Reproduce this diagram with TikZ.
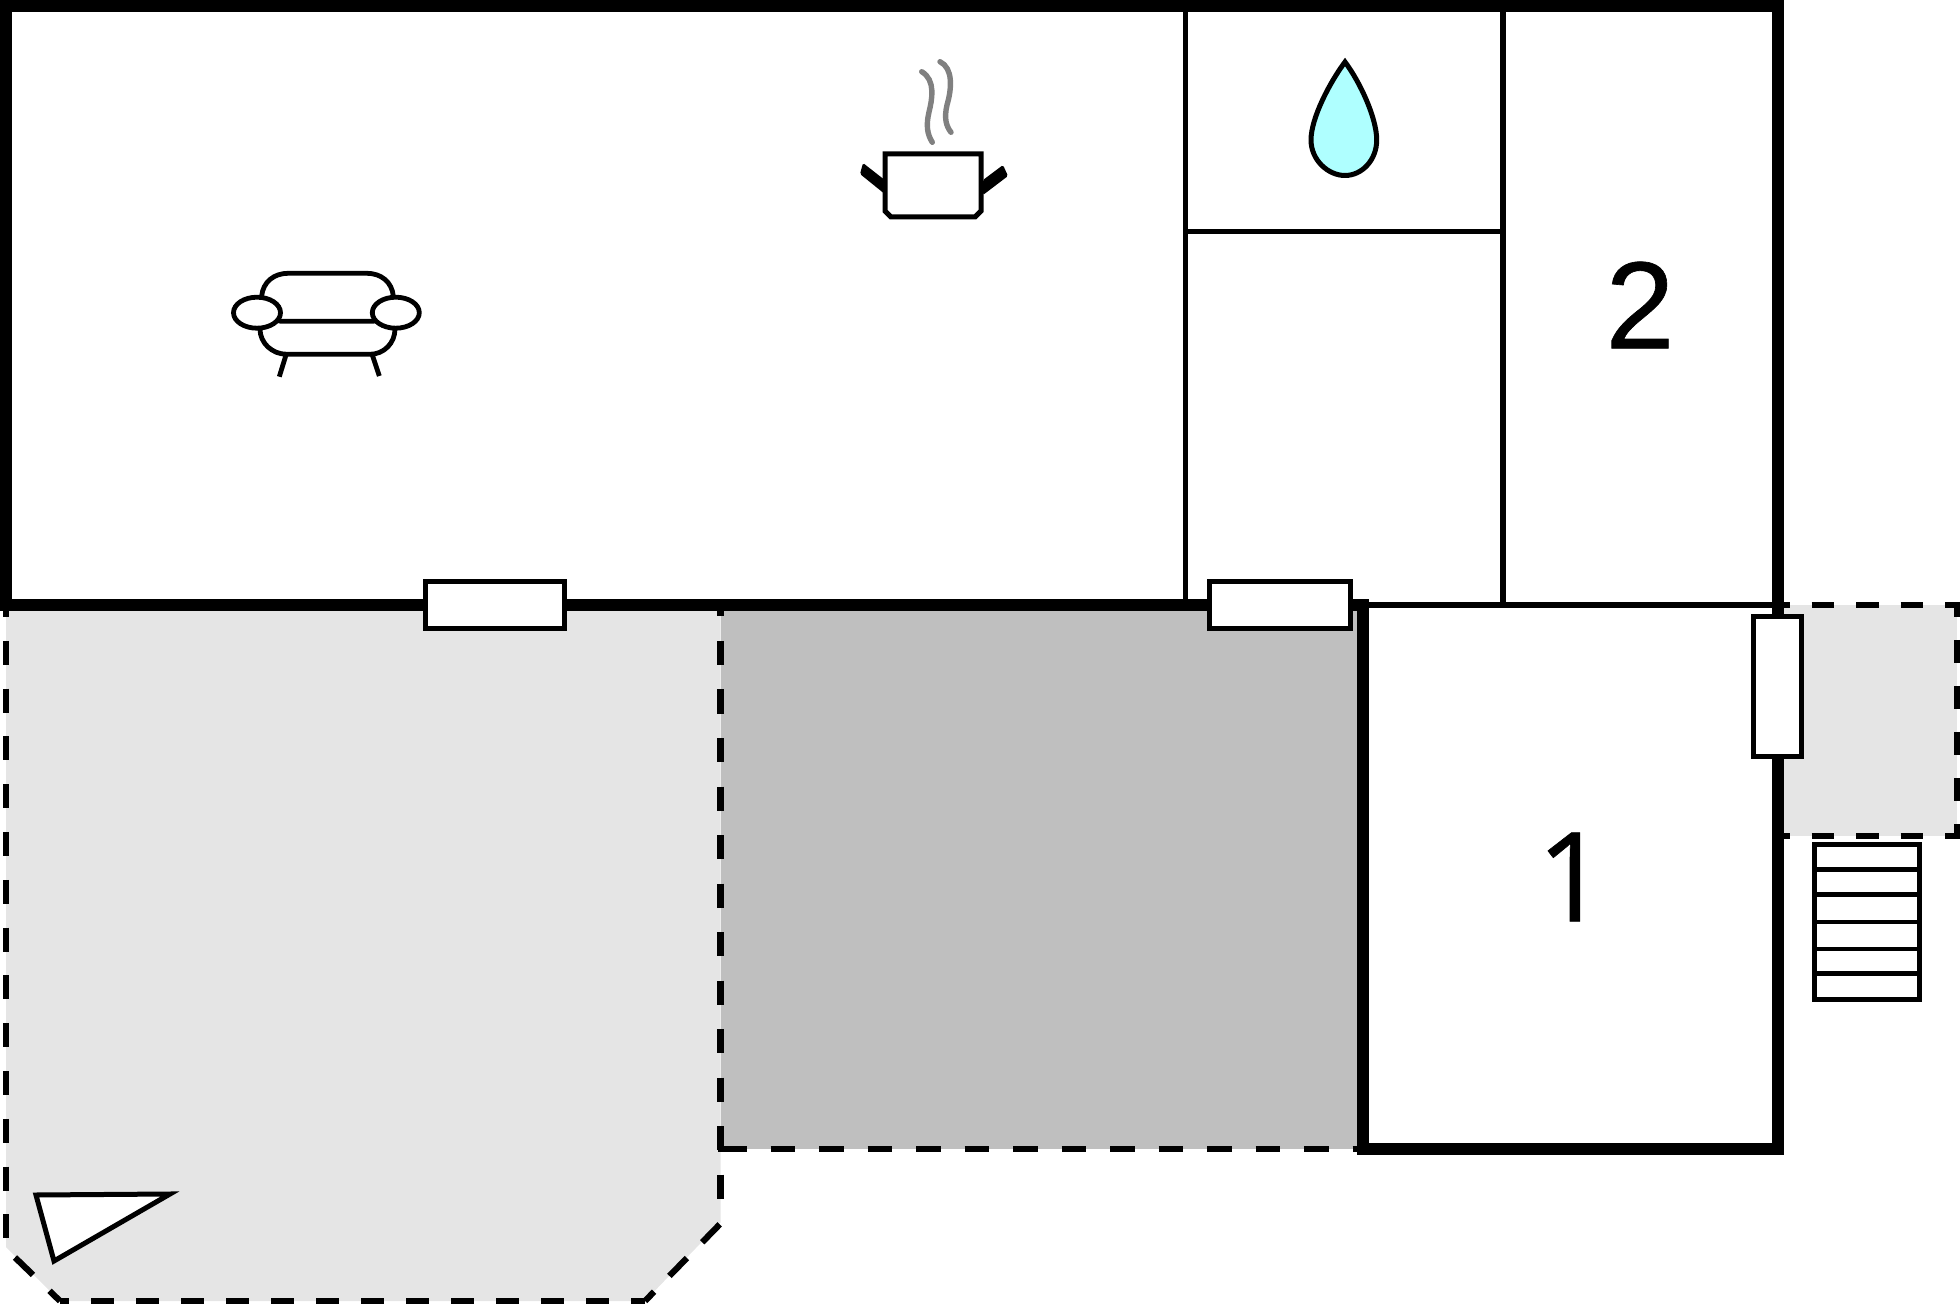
\documentclass[tikz,border=0pt]{standalone}
\usepackage{fontspec}
\setmainfont[FakeBold=0.5]{Liberation Sans}
\newfontfamily\onefont[FakeBold=0.5]{Open Sans}
\definecolor{lightarea}{HTML}{E5E5E5}
\definecolor{darkarea}{HTML}{BFBFBF}
\definecolor{dropblue}{HTML}{AFFFFF}
\definecolor{steam}{HTML}{808080}
\tikzset{
  wall/.style={line width=6pt,line cap=butt,miter limit=10},
  thinwall/.style={line width=2.9pt,line cap=butt},
  dashedge/.style={line width=3.1pt,line cap=butt},
  symbol/.style={line width=2.4pt,draw=black},
  opening/.style={line width=2.5pt,draw=black,fill=white},
  roomlabel/.style={inner sep=0pt,font=\fontsize{62}{70}\selectfont},
}
\begin{document}
\begin{tikzpicture}[x=0.5pt,y=-0.5pt]
\useasboundingbox (0,0) rectangle (1960,1304);
% paved areas
\fill[lightarea] (6,605) -- (720.5,605) -- (720.5,1222.5) -- (645,1301) -- (60,1301) -- (6,1247) -- cycle;
\fill[darkarea] (720.5,605) rectangle (1360,1149);
\fill[lightarea] (1777,605) rectangle (1957,836);
% dashed edges (large terrace)
\draw[dashedge,dash pattern=on 12pt off 11.9pt,dash phase=6pt] (6,605) -- (6,1247);
\draw[dashedge,dash pattern=on 12.5pt off 11.5pt] (15,1257.5) -- (60,1301);
\draw[dashedge,dash pattern=on 11.5pt off 11pt,dash phase=7pt] (60,1301) -- (645,1301);
\draw[dashedge,dash pattern=on 12.5pt off 11pt,dash phase=6pt] (645,1301) -- (721.5,1222.5);
\draw[dashedge,dash pattern=on 12pt off 12.25pt,dash phase=6.25pt] (720.5,605) -- (720.5,1222);
% dashed edge (covered area)
\fill (717.7,1146) rectangle (722,1152);
\draw[dashedge,dash pattern=on 12.25pt off 12pt] (722,1149) -- (1357,1149);
% dashed edges (entrance landing)
\draw[dashedge,dash pattern=on 11.25pt off 11pt,dash phase=8pt] (1783,605) -- (1960,605);
\draw[dashedge,dash pattern=on 11.5pt off 11.5pt,dash phase=4pt] (1957,602) -- (1957,839);
\draw[dashedge,dash pattern=on 11.25pt off 11pt,dash phase=8pt] (1783,836) -- (1960,836);
% walls
\draw[wall] (1357,1149) -- (1777.5,1149) -- (1777.5,6) -- (5.5,6) -- (5.5,605) -- (1369,605);
\draw[wall] (1363,605) -- (1363,1155);
\draw[thinwall] (1369,605) -- (1772,605);
\draw[thinwall] (1185.5,6) -- (1185.5,605);
\draw[thinwall] (1503,6) -- (1503,605);
\draw[thinwall] (1185.5,231.5) -- (1503,231.5);
% openings
\draw[opening] (425,581.2) rectangle (564,628.8);
\draw[opening] (1209.5,581.2) rectangle (1350.5,628.8);
\draw[opening] (1753.3,616.2) rectangle (1801.7,756.8);
% stairs
\draw[opening] (1814.5,844.2) rectangle (1919,999.8);
\foreach \ry in {869.3,894.3,922,949,973.7}
  \draw[symbol] (1814.5,\ry) -- (1919,\ry);
% viewpoint triangle
\draw[opening,miter limit=10] (36,1195) -- (170,1194) -- (54,1261) -- cycle;
% sofa
\draw[symbol,line cap=round] (261.7,296) .. controls (263,282) and (274,273.3) .. (288,273.3) -- (367,273.3) .. controls (381,273.3) and (392,282) .. (393.3,296);
\draw[symbol] (275,318) .. controls (277,320.5) and (279,321.3) .. (283,321.3) -- (371,321.3) .. controls (375,321.3) and (377,320.5) .. (379,318);
\draw[symbol] (260,329) .. controls (260,343) and (272,354.3) .. (287,354.3) -- (370,354.3) .. controls (384,354.3) and (395,343) .. (395,329);
\draw[symbol] (286,355) -- (279.3,376.7);
\draw[symbol] (372.3,355) -- (379.3,376);
\draw[symbol,fill=white] (257,312.7) ellipse [x radius=23.5,y radius=15.5];
\draw[symbol,fill=white] (395.8,312.7) ellipse [x radius=23.5,y radius=15.5];
% pot
\fill[rounded corners=0.8pt] (863,163) -- (886,181) -- (886,195) -- (860,174) -- cycle;
\fill[rounded corners=0.8pt] (1003,165) -- (1008,176) -- (983,195) -- (983,180) -- cycle;
\draw[opening] (885,154) -- (981,154) -- (981,211) -- (975,217) -- (891,217) -- (885,211) -- cycle;
\draw[steam,line width=2.7pt,line cap=round] (921.7,71.7) .. controls (936,80) and (932,100) .. (929,112) .. controls (926,125) and (927,134) .. (932.3,142.3);
\draw[steam,line width=2.7pt,line cap=round] (940,61.7) .. controls (953,68) and (952,88) .. (947,105) .. controls (944,118) and (946,126) .. (951,132.3);
% water drop
\draw[line width=2.5pt,fill=dropblue,miter limit=10] (1345,62) .. controls (1330,82) and (1311,118) .. (1311,140) .. controls (1311,160) and (1328,175.5) .. (1345,175.5) .. controls (1362,175.5) and (1376.7,160) .. (1376.7,140) .. controls (1376.7,118) and (1360,82) .. (1345,62) -- cycle;
% room numbers
\node[roomlabel] (room2) at (1640,305) {2};
\node[roomlabel] (room1) at (1572,877) {\onefont 1};
\end{tikzpicture}
\end{document}
